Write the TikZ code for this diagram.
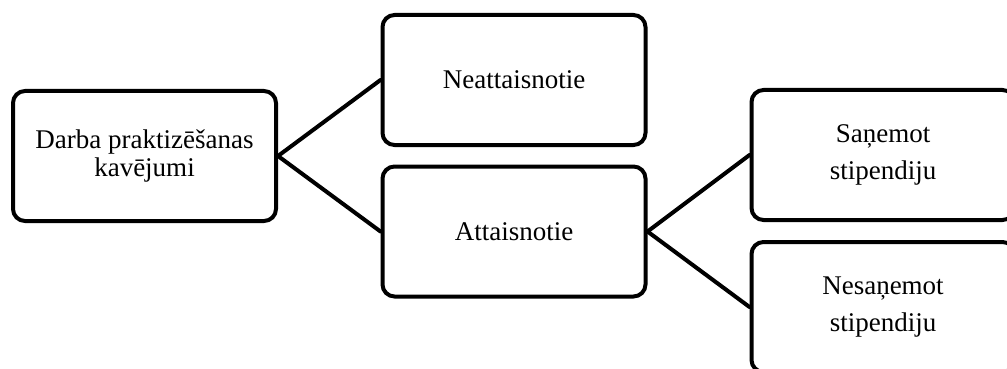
\documentclass[tikz,border=0pt]{standalone}
\usepackage{fontspec}
\setmainfont{Liberation Serif}
\begin{document}
\begin{tikzpicture}[x=1pt,y=-1pt,
  box/.style={draw=black, line width=4pt, rounded corners=12pt, fill=white,
    minimum width=263pt, minimum height=130pt, inner sep=0pt, align=center,
    font=\fontsize{27}{28}\selectfont},
  wide/.style={font=\fontsize{27}{37}\selectfont},
  link/.style={line width=4pt, line cap=round}]
\clip (0,0) rectangle (1007,369);
\fill[white] (0,0) rectangle (1007,369);
\node[box] (root) at (144.5,156) {Darba praktizēšanas\\kavējumi};
\node[box] (neat) at (514,80) {Neattaisnotie};
\node[box] (att) at (514,231.5) {Attaisnotie};
\node[box,wide] (san) at (883,155) {Saņemot\\stipendiju};
\node[box,wide] (nesan) at (883,307) {Nesaņemot\\stipendiju};
\draw[link] (root.east) -- (neat.west);
\draw[link] (root.east) -- (att.west);
\draw[link] (att.east) -- (san.west);
\draw[link] (att.east) -- (nesan.west);
\end{tikzpicture}
\end{document}
